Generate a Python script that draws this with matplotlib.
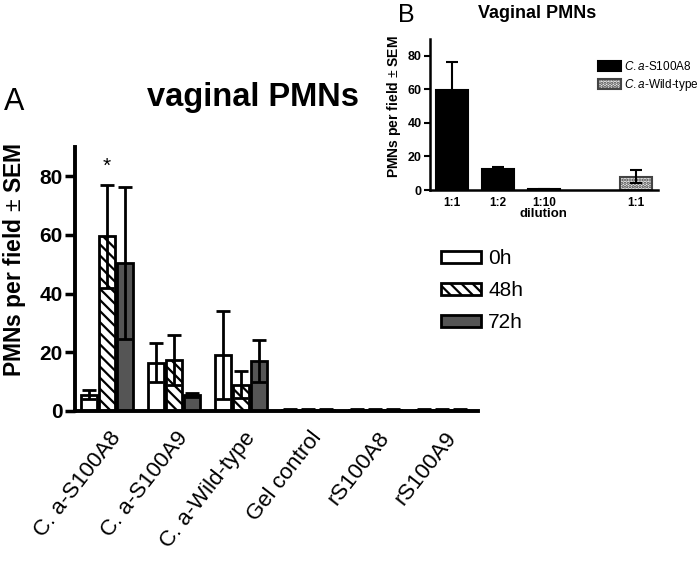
import matplotlib.pyplot as plt
import numpy as np

plt.rcParams['font.family'] = ['Liberation Sans', 'DejaVu Sans']
plt.rcParams['mathtext.fontset'] = 'custom'
plt.rcParams['mathtext.it'] = 'Liberation Sans:italic'
plt.rcParams['mathtext.rm'] = 'Liberation Sans'
plt.rcParams['mathtext.bf'] = 'Liberation Sans:bold'
plt.rcParams['hatch.linewidth'] = 1.6

groups = ['C. a-S100A8', 'C. a-S100A9', 'C. a-Wild-type', 'Gel control', 'rS100A8', 'rS100A9']
times = ['0h', '48h', '72h']
mean_0h = [5.5, 16.5, 19.0, 0.5, 0.5, 0.5]
err_0h = [1.5, 6.7, 15.0, 0.1, 0.1, 0.1]
mean_48h = [59.5, 17.5, 9.0, 0.5, 0.5, 0.5]
err_48h = [17.5, 8.5, 4.5, 0.1, 0.1, 0.1]
mean_72h = [50.5, 5.5, 17.0, 0.5, 0.5, 0.5]
err_72h = [26.0, 0.8, 7.2, 0.1, 0.1, 0.1]

dilutions = ['1:1', '1:2', '1:10', '1:1']
dil_pos = [0, 1, 2, 4]
dil_mean = [59.5, 12.5, 0.5, 8.0]
dil_err = [17.0, 1.5, 0.3, 3.8]

fig = plt.figure(figsize=(7, 5.63), dpi=100)

# ---- panel A
ax = fig.add_axes([0.107, 0.270, 0.576, 0.469])
x = np.arange(len(groups))
w = 0.235
step = 0.27
styles = [dict(facecolor='white', hatch=None),
          dict(facecolor='white', hatch='\\\\\\'),
          dict(facecolor='#555555', hatch=None)]
for k, (m, e) in enumerate([(mean_0h, err_0h), (mean_48h, err_48h), (mean_72h, err_72h)]):
    ax.bar(x + (k - 1) * step, m, w, yerr=e, label=times[k], edgecolor='black',
           linewidth=2, capsize=5, error_kw=dict(elinewidth=2, capthick=2),
           **styles[k])
ax.text(0, 80, '*', ha='center', va='bottom', fontsize=15)

ax.set_xlim(-0.48, 5.54)
ax.set_ylim(0, 90)
ax.set_yticks([0, 20, 40, 60, 80])
ax.set_xticks(x + 0.03)
ax.set_xticklabels(groups, rotation=52, ha='right', rotation_mode='anchor', fontsize=16)
for lbl in ax.get_yticklabels():
    lbl.set_fontweight('bold')
    lbl.set_fontsize(15)
ax.tick_params(axis='y', width=2.5, length=7, pad=2)
ax.tick_params(axis='x', length=0, pad=12)
for s in ['top', 'right']:
    ax.spines[s].set_visible(False)
for s in ['left', 'bottom']:
    ax.spines[s].set_linewidth(2.8)
fig.text(15 / 700, 1 - 260 / 563, 'PMNs per field $\\pm$ SEM', rotation=90,
         fontsize=16.5, fontweight='bold', ha='center', va='center')
fig.text(0.362, 0.826, 'vaginal PMNs', fontsize=23.5, fontweight='bold', ha='center', va='center')
ax.legend(loc='center left', bbox_to_anchor=(0.862, 0.455), frameon=False, fontsize=15,
          handlelength=1.9, handleheight=0.55, labelspacing=0.62, handletextpad=0.35)
fig.text(0.006, 0.805, 'A', fontsize=22)

# ---- panel B
bx = fig.add_axes([0.614, 0.6625, 0.326, 0.268])
bar_colors = ['black', 'black', 'black', '#ececec']
bars = bx.bar(dil_pos, dil_mean, 0.68, yerr=dil_err, color=bar_colors, edgecolor='black',
              linewidth=1.5, capsize=4, error_kw=dict(elinewidth=1.5, capthick=1.5))
bars[3].set_hatch('.....')
bars[3].set_edgecolor('#444444')
bx.set_xlim(-0.48, 4.48)
bx.set_ylim(0, 90)
bx.set_yticks([0, 20, 40, 60, 80])
bx.set_xticks(dil_pos)
bx.set_xticklabels(dilutions, fontsize=8.5, fontweight='bold')
for lbl in bx.get_yticklabels():
    lbl.set_fontweight('bold')
    lbl.set_fontsize(9)
bx.tick_params(axis='y', width=1.5, length=4, pad=2)
bx.tick_params(axis='x', length=0, pad=5)
for s in ['top', 'right']:
    bx.spines[s].set_visible(False)
for s in ['left', 'bottom']:
    bx.spines[s].set_linewidth(1.8)
bx.set_xlabel('dilution', fontsize=9.5, fontweight='bold', labelpad=-1)
fig.text(394 / 700, 1 - 107 / 563, 'PMNs per field $\\pm$ SEM', rotation=90,
         fontsize=10, fontweight='bold', ha='center', va='center')
fig.text(0.767, 0.976, 'Vaginal PMNs', fontsize=13, fontweight='bold', ha='center', va='center')
bx.legend([bars[0], bars[3]], ['$\\it{C.a}$-S100A8', '$\\it{C.a}$-Wild-type'],
          loc='upper left', bbox_to_anchor=(0.69, 0.93), frameon=False, fontsize=8.5,
          handlelength=2.0, handleheight=0.9, labelspacing=0.35, handletextpad=0.2)
fig.text(0.569, 0.961, 'B', fontsize=18)

fig.savefig('out.png', dpi=100)
